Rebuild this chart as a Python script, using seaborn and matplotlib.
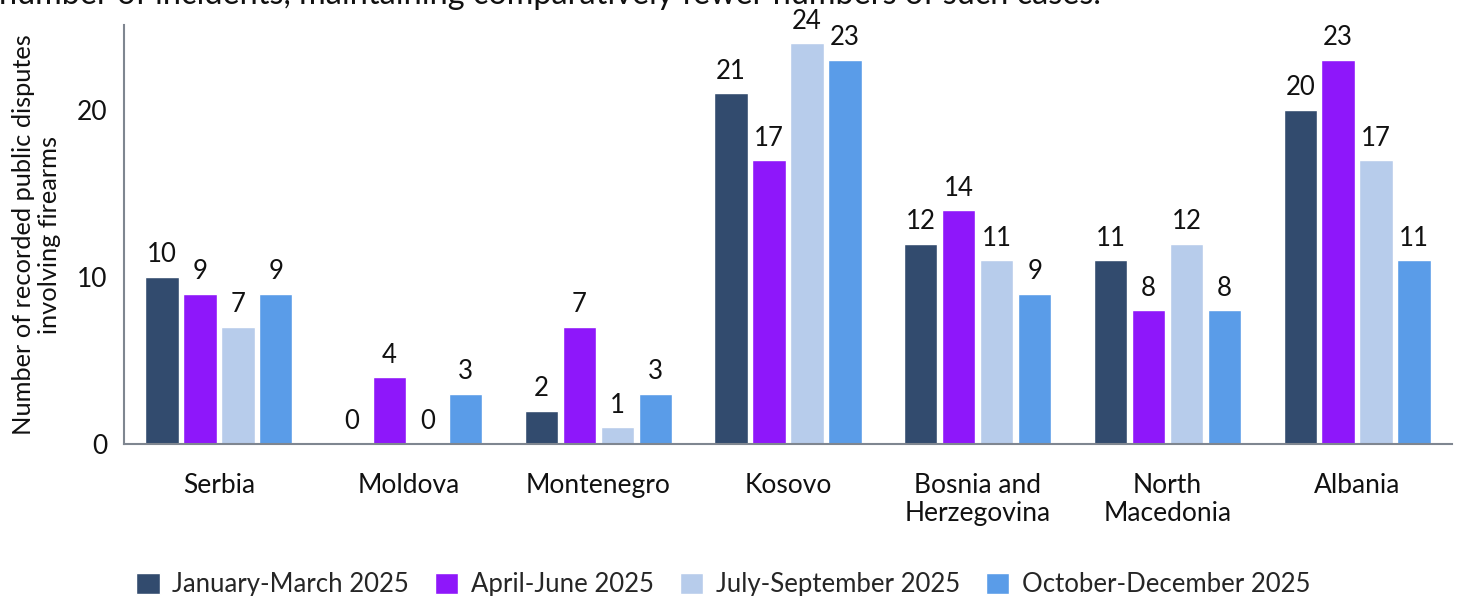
import matplotlib
matplotlib.use("Agg")
import matplotlib.pyplot as plt
import pandas as pd
import seaborn as sns

countries = ["Serbia", "Moldova", "Montenegro", "Kosovo",
             "Bosnia and\nHerzegovina", "North\nMacedonia", "Albania"]
periods = ["January-March 2025", "April-June 2025",
           "July-September 2025", "October-December 2025"]

jan_mar = [10, 0, 2, 21, 12, 11, 20]
apr_jun = [9, 4, 7, 17, 14, 8, 23]
jul_sep = [7, 0, 1, 24, 11, 12, 17]
oct_dec = [9, 3, 3, 23, 9, 8, 11]

colors = ["#324B6E", "#8E17FA", "#B7CCEB", "#5A9CE8"]


def build_frame():
    rows = []
    for period, values in zip(periods, [jan_mar, apr_jun, jul_sep, oct_dec]):
        for country, v in zip(countries, values):
            rows.append((country, period, v))
    return pd.DataFrame(rows, columns=["Country", "Period", "Disputes"])


def main():
    df = build_frame()

    sns.set_theme(style="white")
    plt.rcParams["font.family"] = ["Lato", "DejaVu Sans"]

    fig = plt.figure(figsize=(14.64, 5.96), dpi=100)
    ax = fig.add_axes([0.0847, 0.255, 0.9071, 0.703])

    sns.barplot(data=df, x="Country", y="Disputes", hue="Period",
                order=countries, hue_order=periods, palette=colors,
                width=0.8, gap=0.12, saturation=1, ax=ax, legend=True)

    for container in ax.containers:
        ax.bar_label(container, padding=7, fontsize=18.5, color="#111111")

    ax.set_xlim(-0.5, 6.5)
    ax.set_ylim(0, 25.1)
    ax.set_yticks([0, 10, 20])
    ax.set_xlabel("")
    ax.set_ylabel("Number of recorded public disputes\ninvolving firearms",
                  fontsize=18.3, color="#111111", labelpad=11)
    ax.tick_params(axis="x", length=0, pad=21, labelsize=19, labelcolor="#111111")
    ax.tick_params(axis="y", length=0, pad=12, labelsize=19, labelcolor="#111111")
    for lbl in ax.get_xticklabels():
        lbl.set_linespacing(1.15)

    sns.despine(ax=ax)
    for side in ["left", "bottom"]:
        ax.spines[side].set_color("#7F8690")
        ax.spines[side].set_linewidth(1.5)

    handles, labels = ax.get_legend_handles_labels()
    ax.get_legend().remove()
    fig.legend(handles, labels, loc="center", bbox_to_anchor=(0.494, 0.019),
               ncol=4, frameon=False, fontsize=18.5, handlelength=0.9,
               handleheight=0.9, handletextpad=0.5, columnspacing=1.0)

    fig.text(-0.001, 1 - 4 / 596,
             "number of incidents, maintaining comparatively fewer numbers of such cases.",
             fontsize=23.3, color="#111111", ha="left", va="baseline")

    fig.savefig("out.png", dpi=100)


if __name__ == "__main__":
    main()
